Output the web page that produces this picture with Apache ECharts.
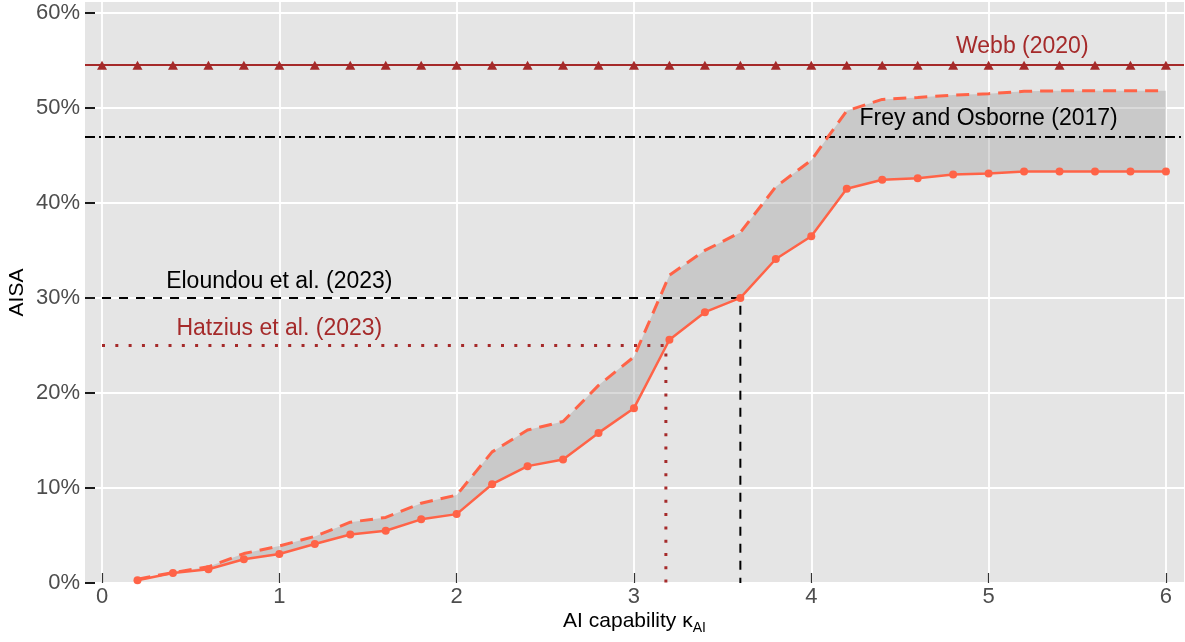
<!DOCTYPE html>
<html>
<head>
<meta charset="utf-8">
<script src="https://cdn.jsdelivr.net/npm/echarts@6/dist/echarts.min.js"></script>
<style>
  html, body { margin: 0; padding: 0; background: #ffffff; }
  #chart { width: 1185px; height: 642px; }
</style>
</head>
<body>
<div id="chart"></div>
<script>
// AI capability levels (kappa_AI)
const KAPPA = [0.2, 0.4, 0.6, 0.8, 1.0, 1.2, 1.4, 1.6, 1.8, 2.0,
               2.2, 2.4, 2.6, 2.8, 3.0, 3.2, 3.4, 3.6, 3.8, 4.0,
               4.2, 4.4, 4.6, 4.8, 5.0, 5.2, 5.4, 5.6, 5.8, 6.0];
// AISA, lower bound (solid line with points), in %
const AISA_LOW = [0.3, 1.05, 1.45, 2.5, 3.05, 4.1, 5.1, 5.5, 6.7, 7.25,
                  10.4, 12.3, 13.0, 15.8, 18.4, 25.6, 28.5, 30.0, 34.1, 36.5,
                  41.5, 42.45, 42.6, 43.0, 43.1, 43.3, 43.3, 43.3, 43.3, 43.3];
// AISA, upper bound (dashed line), in %
const AISA_HIGH = [0.4, 1.1, 1.7, 3.1, 3.9, 4.9, 6.4, 6.9, 8.4, 9.25,
                   13.8, 16.1, 17.0, 20.8, 23.8, 32.4, 35.0, 36.9, 41.7, 44.5,
                   49.7, 50.9, 51.1, 51.35, 51.5, 51.75, 51.8, 51.8, 51.8, 51.8];

// Reference estimates from the literature, in %
const WEBB_2020 = 54.5;
const WEBB_MARKER_X = [0, 0.2, 0.4, 0.6, 0.8, 1.0, 1.2, 1.4, 1.6, 1.8, 2.0,
                       2.2, 2.4, 2.6, 2.8, 3.0, 3.2, 3.4, 3.6, 3.8, 4.0,
                       4.2, 4.4, 4.6, 4.8, 5.0, 5.2, 5.4, 5.6, 5.8, 6.0];
const FREY_OSBORNE_2017 = 47;
const ELOUNDOU_2023 = 30;
const ELOUNDOU_KAPPA = 3.6;
const HATZIUS_2023 = 25;
const HATZIUS_KAPPA = 3.18;

// Annotation text and anchor positions (data units)
const NOTE_TEXT  = ['Webb (2020)', 'Frey and Osborne (2017)', 'Eloundou et al. (2023)', 'Hatzius et al. (2023)'];
const NOTE_X     = [5.19, 5.0, 1.0, 1.0];
const NOTE_Y     = [56.45, 48.9, 31.7, 26.8];
const NOTE_COLOR = ['#A52A2A', '#000000', '#000000', '#A52A2A'];

// Axis ticks
const X_TICKS = [0, 1, 2, 3, 4, 5, 6];
const Y_TICKS = [0, 10, 20, 30, 40, 50, 60];

const TOMATO = '#FF6347';
const BROWN = '#A52A2A';
const FONT = '"Liberation Sans", Arial, sans-serif';

const chart = echarts.init(document.getElementById('chart'), null, { renderer: 'canvas' });

const noteSeries = NOTE_TEXT.map((t, i) => ({
  type: 'scatter',
  data: [[NOTE_X[i], NOTE_Y[i]]],
  symbolSize: 1,
  itemStyle: { color: 'rgba(0,0,0,0)' },
  silent: true,
  z: 6,
  label: {
    show: true,
    position: 'inside',
    formatter: t,
    color: NOTE_COLOR[i],
    textBorderWidth: 0,
    opacity: 1,
    fontSize: 23,
    fontFamily: FONT
  }
}));

const option = {
  animation: false,
  backgroundColor: '#ffffff',
  grid: {
    left: 85, right: 1, top: 2, bottom: 59,
    outerBoundsMode: 'none',
    containLabel: false,
    show: true,
    backgroundColor: '#E5E5E5',
    borderWidth: 0
  },
  xAxis: {
    type: 'value',
    min: -0.096,
    max: 6.102,
    name: '{m|AI capability \u03BA}{s|AI}',
    nameLocation: 'middle',
    nameGap: 24,
    nameMoveOverlap: false,
    nameTextStyle: {
      rich: {
        m: { fontSize: 21, fontFamily: FONT, color: '#000000', lineHeight: 28 },
        s: { fontSize: 14, fontFamily: FONT, color: '#000000', lineHeight: 14, verticalAlign: 'bottom' }
      }
    },
    axisLine: { show: false, onZero: false },
    axisTick: {
      show: true, inside: true, length: 10,
      customValues: X_TICKS,
      lineStyle: { color: '#333333', width: 1.2 }
    },
    axisLabel: {
      customValues: X_TICKS,
      color: '#4D4D4D', fontSize: 22, fontFamily: FONT, margin: 3
    },
    splitLine: { show: true, lineStyle: { color: '#ffffff', width: 1.8 } }
  },
  yAxis: {
    type: 'value',
    min: 0,
    max: 61.15,
    name: 'AISA',
    nameLocation: 'middle',
    nameGap: 57,
    nameMoveOverlap: false,
    nameTextStyle: { fontSize: 21, fontFamily: FONT, color: '#000000' },
    axisLine: { show: false, onZero: false },
    axisTick: {
      show: true, inside: true, length: 10,
      customValues: Y_TICKS,
      lineStyle: { color: '#1a1a1a', width: 2 }
    },
    axisLabel: {
      customValues: Y_TICKS,
      formatter: '{value}%',
      color: '#4D4D4D', fontSize: 22, fontFamily: FONT, margin: 5
    },
    splitLine: { show: true, lineStyle: { color: '#ffffff', width: 1.8 } }
  },
  series: [
    // shaded band between the lower and upper bound
    {
      type: 'custom',
      silent: true,
      z: 1,
      data: KAPPA.map((k, i) => [k, AISA_LOW[i], AISA_HIGH[i]]),
      encode: { x: 0, y: [1, 2] },
      renderItem: function (params, api) {
        if (params.dataIndex !== 0) return;
        const pts = [];
        for (let i = 0; i < KAPPA.length; i++) pts.push(api.coord([KAPPA[i], AISA_HIGH[i]]));
        for (let i = KAPPA.length - 1; i >= 0; i--) pts.push(api.coord([KAPPA[i], AISA_LOW[i]]));
        return {
          type: 'polygon',
          shape: { points: pts },
          style: { fill: 'rgba(150,150,150,0.35)' }
        };
      }
    },
    // Frey and Osborne (2017): dash-dot horizontal
    {
      type: 'line',
      data: [],
      silent: true,
      z: 3,
      markLine: {
        silent: true,
        symbol: ['none', 'none'],
        label: { show: false },
        lineStyle: { color: '#000000', width: 2, type: [10, 4, 2, 4] },
        data: [{ yAxis: FREY_OSBORNE_2017 }]
      }
    },
    // Eloundou et al. (2023): dashed guide
    {
      type: 'line',
      silent: true,
      z: 3,
      symbol: 'none',
      data: [[0, ELOUNDOU_2023], [ELOUNDOU_KAPPA, ELOUNDOU_2023], [ELOUNDOU_KAPPA, 0]],
      lineStyle: { color: '#000000', width: 2, type: [9, 8] }
    },
    // Hatzius et al. (2023): dotted guide
    {
      type: 'line',
      silent: true,
      z: 3,
      symbol: 'none',
      data: [[0, HATZIUS_2023], [HATZIUS_KAPPA, HATZIUS_2023], [HATZIUS_KAPPA, 0]],
      lineStyle: { color: BROWN, width: 3, type: [3, 10.3] }
    },
    // Webb (2020): horizontal line with triangles
    {
      type: 'line',
      silent: true,
      z: 4,
      data: WEBB_MARKER_X.map(x => [x, WEBB_2020]),
      symbol: 'triangle',
      symbolSize: [10, 9],
      showAllSymbol: true,
      itemStyle: { color: BROWN },
      lineStyle: { width: 0, opacity: 0 },
      markLine: {
        silent: true,
        symbol: ['none', 'none'],
        label: { show: false },
        lineStyle: { color: BROWN, width: 2, type: 'solid' },
        data: [{ yAxis: WEBB_2020 }]
      }
    },
    // upper bound: dashed
    {
      type: 'line',
      silent: true,
      z: 5,
      symbol: 'none',
      data: KAPPA.map((k, i) => [k, AISA_HIGH[i]]),
      lineStyle: { color: TOMATO, width: 3, type: [13, 8] }
    },
    // lower bound: solid with points
    {
      type: 'line',
      silent: true,
      z: 5,
      symbol: 'circle',
      symbolSize: 8,
      showAllSymbol: true,
      data: KAPPA.map((k, i) => [k, AISA_LOW[i]]),
      itemStyle: { color: TOMATO },
      lineStyle: { color: TOMATO, width: 2.5 }
    }
  ].concat(noteSeries)
};

chart.setOption(option);
</script>
</body>
</html>
